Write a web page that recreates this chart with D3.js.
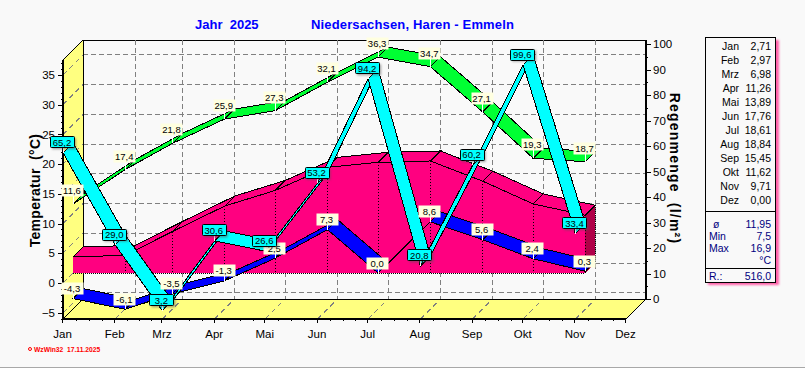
<!DOCTYPE html>
<html>
<head>
<meta charset="utf-8">
<script src="https://d3js.org/d3.v7.min.js"></script>
<style>
html, body { margin: 0; padding: 0; background: #f9f9f9; overflow: hidden; }
text { font-family: "Liberation Sans", Arial, sans-serif; }
.domain { display: none; }
</style>
</head>
<body>
<script>
let w = 805;
let h = 368;

let months = ["Jan", "Feb", "Mrz", "Apr", "Mai", "Jun", "Jul", "Aug", "Sep", "Okt", "Nov", "Dez"];
let meanTemp = [2.71, 2.97, 6.98, 11.26, 13.89, 17.76, 18.61, 18.84, 15.45, 11.62, 9.71, 0.00];
let maxTemp = [11.6, 17.4, 21.8, 25.9, 27.3, 32.1, 36.3, 34.7, 27.1, 19.3, 18.7];
let minTemp = [-4.3, -6.1, -3.5, -1.3, 2.5, 7.3, 0.0, 8.6, 5.6, 2.4, 0.3];
let rain = [65.2, 29.0, 3.2, 30.6, 26.6, 53.2, 94.2, 20.8, 60.2, 99.6, 33.4];
let statLabels = ["ø", "Min", "Max", ""];
let statValues = ["11,95", "7,5", "16,9", "°C"];
let rainTotal = "516,0";
let tempTicks = [-5, 0, 5, 10, 15, 20, 25, 30, 35];
let rainTicks = [0, 10, 20, 30, 40, 50, 60, 70, 80, 90, 100];

let black = "#000000";
let gridColor = "#808080";
let bg = "#f9f9f9";
let wallColor = "#ffff80";
let pink = "#ff0080";
let pinkDark = "#b00048";
let depth = 20;   // offset of the back wall
let midDepth = 10;

let monthDates = months.map(function(m, i) { return new Date(2025, i, 1); });

// three small ticks in every month
let minorDates = [];
for (let i = 0; i < 11; i++) {
    let a = monthDates[i].getTime();
    let b = monthDates[i + 1].getTime();
    for (let k = 1; k < 4; k++) {
        minorDates.push(new Date(a + (b - a) * k / 4));
    }
}

let xScale = d3.scaleTime().domain([monthDates[0], monthDates[11]]).range([63, 626]);
let tempScale = d3.scaleLinear().domain([-6.05, 37.5]).range([319, 60]);
let rainScale = d3.scaleLinear().domain([0, 100]).range([319, 64]);

let svg = d3.select("body").append("svg")
    .attr("width", w)
    .attr("height", h)
    .style("display", "block");

let defs = svg.append("defs");
defs.append("filter").attr("id", "soft")
    .attr("x", "-30%").attr("y", "-30%").attr("width", "160%").attr("height", "160%")
    .append("feGaussianBlur").attr("stdDeviation", 1);

let xLeft = xScale.range()[0];
let xRight = xScale.range()[1];
let yBottom = tempScale.range()[0];
let yTop = tempScale.range()[1];

function poly(parent, pts, fill, stroke) {
    return parent.append("polygon")
        .attr("points", pts.map(function(p) { return p.join(","); }).join(" "))
        .attr("fill", fill)
        .attr("stroke", stroke || "none")
        .attr("shape-rendering", "crispEdges");
}

function seg(parent, x1, y1, x2, y2, color, dash, width) {
    return parent.append("line")
        .attr("x1", x1).attr("y1", y1).attr("x2", x2).attr("y2", y2)
        .attr("stroke", color)
        .attr("stroke-width", width || 1)
        .attr("stroke-dasharray", dash || null)
        .attr("shape-rendering", "crispEdges");
}

//Walls
let walls = svg.append("g");
poly(walls, [[xLeft, yTop], [xLeft + depth, yTop - depth], [xLeft + depth, yBottom - depth], [xLeft, yBottom]], wallColor);
poly(walls, [[xLeft, yBottom], [xLeft + depth, yBottom - depth], [xRight + depth, yBottom - depth], [xRight, yBottom]], wallColor);

//Grid
let grid = svg.append("g");
tempTicks.forEach(function(t) {
    let y = tempScale(t);
    seg(grid, xLeft, y, xLeft + depth, y - depth, gridColor, "5,4");
    seg(grid, xLeft + depth, y - depth, xRight + depth, y - depth, gridColor, "5,3");
});
monthDates.slice(1, 11).forEach(function(d) {
    let x = xScale(d);
    seg(grid, x, yBottom, x + depth, yBottom - depth, gridColor, "5,4");
    seg(grid, x + depth, yTop - depth, x + depth, yBottom - depth, gridColor, "5,3");
});

//Wall outlines
seg(walls, xLeft + depth, yTop - depth, xRight + depth, yTop - depth, black);
seg(grid, xLeft + depth, yTop - depth, xLeft + depth, yBottom - depth, black);
seg(grid, xLeft + depth, yBottom - depth, xRight + depth, yBottom - depth, black);
seg(grid, xLeft, yTop, xLeft + depth, yTop - depth, black);
seg(grid, xLeft, yBottom, xLeft + depth, yBottom - depth, black);
seg(grid, xRight, yBottom, xRight + depth, yBottom - depth, black);

//One ribbon, from the front line to the back line, segment by segment
function ribbon(values, scale, from, to, color) {
    let g = svg.append("g");
    for (let i = 0; i < values.length - 1; i++) {
        let x0 = xScale(monthDates[i]);
        let x1 = xScale(monthDates[i + 1]);
        let y0 = scale(values[i]);
        let y1 = scale(values[i + 1]);
        poly(g, [
            [x0 + from, y0 - from],
            [x1 + from, y1 - from],
            [x1 + to, y1 - to],
            [x0 + to, y0 - to]
        ], color, black);
    }
}

//Mean temperature: solid block standing on the zero line
let meanShown = meanTemp.slice(0, 11);
let block = svg.append("g");
let baseY = tempScale(0) - midDepth;
let nov = xScale(monthDates[10]);
poly(block, [
    [nov + midDepth, tempScale(meanShown[10]) - midDepth],
    [nov + depth, tempScale(meanShown[10]) - depth],
    [nov + depth, baseY - midDepth],
    [nov + midDepth, baseY]
], pinkDark);
ribbon(meanShown, tempScale, midDepth, depth, pink);
let blockFront = svg.append("g");
poly(blockFront, meanShown.map(function(v, i) {
    return [xScale(monthDates[i]) + midDepth, tempScale(v) - midDepth];
}).concat([[nov + midDepth, baseY], [xScale(monthDates[0]) + midDepth, baseY]]), pink);
let blockLines = svg.append("g");
for (let i = 0; i < 10; i++) {
    seg(blockLines, xScale(monthDates[i]) + midDepth, tempScale(meanShown[i]) - midDepth,
        xScale(monthDates[i + 1]) + midDepth, tempScale(meanShown[i + 1]) - midDepth, black);
}
meanShown.forEach(function(v, i) {
    if (i == 0) return;
    let x = xScale(monthDates[i]) + midDepth;
    seg(blockLines, x, tempScale(v) - midDepth, x, baseY, black, "1,2");
});
seg(blockLines, xScale(monthDates[0]) + midDepth, baseY, nov + midDepth, baseY, black, "1,1");
seg(blockLines, nov + depth, tempScale(meanShown[10]) - depth, nov + depth, baseY - midDepth, black, "1,1");

//Lines
ribbon(minTemp, tempScale, midDepth, depth, "#0000ff");
ribbon(maxTemp, tempScale, midDepth, depth, "#00ff33");
ribbon(rain, rainScale, 0, midDepth, "#00ffff");

//Axes
let tempAxis = d3.axisLeft(tempScale).tickValues(tempTicks).tickSize(5).tickPadding(3);
let tempMinor = d3.axisLeft(tempScale).tickValues(d3.range(-6, 38)).tickSize(2).tickFormat("");
let rainAxis = d3.axisRight(rainScale).tickValues(rainTicks).tickSize(5).tickPadding(2);
let rainMinor = d3.axisRight(rainScale).tickValues(d3.range(5, 100, 10)).tickSize(2).tickFormat("");
let monthAxis = d3.axisBottom(xScale).tickValues(monthDates)
    .tickSize(4).tickPadding(7)
    .tickFormat(function(d) { return months[d.getMonth()]; });
let monthMinor = d3.axisBottom(xScale).tickValues(minorDates).tickSize(2).tickFormat("");

function styleAxis(g) {
    g.selectAll("text").attr("font-size", 11.5).attr("fill", black)
        .style("font-family", '"Liberation Sans", Arial, sans-serif');
    g.selectAll("line").attr("stroke", black).attr("shape-rendering", "crispEdges");
}

let axes = svg.append("g");
axes.append("g").attr("transform", "translate(" + xLeft + ",0)").call(tempMinor).call(styleAxis);
axes.append("g").attr("transform", "translate(" + xLeft + ",0)").call(tempAxis).call(styleAxis);
axes.append("g").attr("transform", "translate(" + (xRight + depth) + "," + (-depth) + ")").call(rainMinor).call(styleAxis);
axes.append("g").attr("transform", "translate(" + (xRight + depth) + "," + (-depth) + ")").call(rainAxis).call(styleAxis);
axes.append("g").attr("transform", "translate(0," + yBottom + ")").call(monthMinor).call(styleAxis);
axes.append("g").attr("transform", "translate(-1," + yBottom + ")").call(monthAxis).call(styleAxis);

seg(axes, xLeft, yTop, xLeft, yBottom + 1, black, null, 2);
seg(axes, xLeft, yBottom, xRight, yBottom, black, null, 2);
seg(axes, xRight + depth, yTop - depth, xRight + depth, yBottom - depth + 1, black, null, 2);

//Value labels
function comma(v) { return v.toFixed(1).replace(".", ","); }

function labels(values, scale, offset, lift, boxW, boxH, fill, boxed) {
    let g = svg.append("g");
    values.forEach(function(v, i) {
        let px = xScale(monthDates[i]) + offset;
        let py = scale(v) - offset;
        let cy = py - lift;
        let cx = px - 1;
        seg(g, px, cy, px, py, "#ffffff");
        if (boxed) {
            g.append("rect")
                .attr("x", cx - boxW / 2 + 2).attr("y", cy - boxH / 2 + 2)
                .attr("width", boxW).attr("height", boxH)
                .attr("fill", "#555555").attr("opacity", 0.55)
                .attr("filter", "url(#soft)");
        }
        g.append("rect")
            .attr("x", Math.round(cx - boxW / 2) + 0.5).attr("y", Math.round(cy - boxH / 2) + 0.5)
            .attr("width", boxW).attr("height", boxH)
            .attr("rx", boxed ? 1 : 0)
            .attr("fill", fill)
            .attr("stroke", boxed ? black : "none");
        g.append("text")
            .attr("x", cx).attr("y", cy + 4)
            .attr("text-anchor", "middle")
            .attr("font-size", 9.5)
            .attr("fill", black)
            .text(comma(v));
    });
}

labels(minTemp, tempScale, midDepth, 10.5, 22, 12, "#ffffe0", false);
labels(maxTemp, tempScale, midDepth, 14, 22, 12, "#ffffe0", false);
labels(rain, rainScale, 0, 11, 24, 11, "#00ffff", true);

//Titles
svg.append("text").attr("x", 195).attr("y", 29)
    .attr("font-size", 13).attr("font-weight", "bold").attr("fill", "#0000ff")
    .style("white-space", "pre")
    .text("Jahr  2025");
svg.append("text").attr("x", 311).attr("y", 29)
    .attr("font-size", 13).attr("font-weight", "bold").attr("fill", "#0000ff")
    .attr("letter-spacing", 0.15)
    .text("Niedersachsen, Haren - Emmeln");

svg.append("text")
    .attr("transform", "translate(40,190.5) rotate(-90)")
    .attr("text-anchor", "middle")
    .attr("font-size", 14).attr("font-weight", "bold").attr("letter-spacing", 0.3)
    .style("white-space", "pre")
    .text("Temperatur  (°C)");
svg.append("text")
    .attr("transform", "translate(670,168.5) rotate(90)")
    .attr("text-anchor", "middle")
    .attr("font-size", 14).attr("font-weight", "bold").attr("letter-spacing", 1.2)
    .style("white-space", "pre")
    .text("Regenmenge  (l/m²)");

//Footer
svg.append("circle").attr("cx", 30).attr("cy", 349).attr("r", 1.5)
    .attr("fill", "none").attr("stroke", "#ff0000").attr("stroke-width", 1);
svg.append("text").attr("x", 34).attr("y", 352)
    .attr("font-size", 6.7).attr("font-weight", "bold").attr("fill", "#ff0000")
    .style("white-space", "pre")
    .text("WzWin32  17.11.2025");
seg(svg, 0, 367, w, 367, "#a8a8a8", null, 1);

//Table on the right
let table = svg.append("g");
table.append("rect").attr("x", 708).attr("y", 40).attr("width", 71).attr("height", 245)
    .attr("fill", "#ff60a8").attr("filter", "url(#soft)");
table.append("rect").attr("x", 705.5).attr("y", 37.5).attr("width", 70).attr("height", 245)
    .attr("fill", bg).attr("stroke", black).attr("shape-rendering", "crispEdges");
seg(table, 705, 211.5, 776, 211.5, black);
seg(table, 705, 268.5, 776, 268.5, black);

months.forEach(function(m, i) {
    let y = 50 + i * 14;
    table.append("text").attr("x", 739).attr("y", y).attr("text-anchor", "end")
        .attr("font-size", 10.5).attr("fill", black).text(m);
    table.append("text").attr("x", 771).attr("y", y).attr("text-anchor", "end")
        .attr("font-size", 10.5).attr("fill", black)
        .text(meanTemp[i].toFixed(2).replace(".", ","));
});

let navy = "#000080";
statLabels.forEach(function(s, i) {
    let y = 228 + i * 12;
    table.append("text").attr("x", i == 0 ? 713 : 709).attr("y", y)
        .attr("font-size", 10.5).attr("fill", navy).text(s);
    table.append("text").attr("x", 771).attr("y", y).attr("text-anchor", "end")
        .attr("font-size", 10.5).attr("fill", navy).text(statValues[i]);
});
table.append("text").attr("x", 709).attr("y", 280)
    .attr("font-size", 10.5).attr("fill", navy).text("R.:");
table.append("text").attr("x", 771).attr("y", 280).attr("text-anchor", "end")
    .attr("font-size", 10.5).attr("fill", navy).text(rainTotal);
</script>
</body>
</html>
